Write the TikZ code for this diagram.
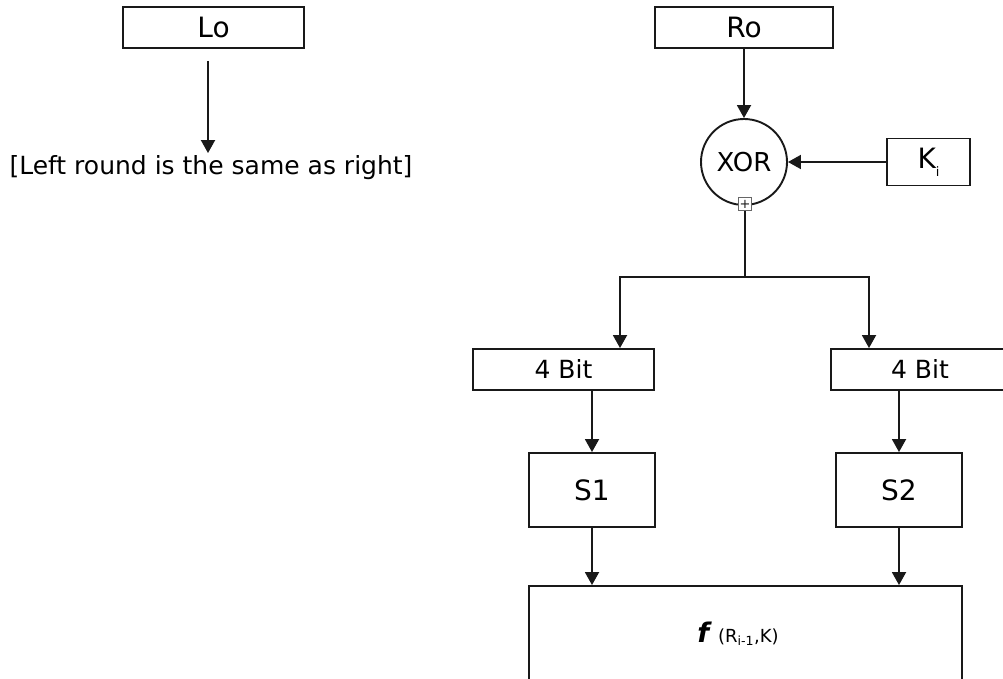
\documentclass[tikz,border=0pt]{standalone}
\usepackage{fontspec}
\setmainfont{DejaVu Sans}
\usetikzlibrary{arrows.meta}
\begin{document}
\begin{tikzpicture}[x=1pt,y=1pt,line width=1.9pt,color=black!90,
  >={Triangle[length=13pt,width=14pt]},
  box/.style={draw,rectangle,inner sep=0pt,text=black,font=\fontsize{28}{32}\selectfont},
  bitbox/.style={box,minimum height=41pt,font=\fontsize{25}{28}\selectfont},
  sbox/.style={box,minimum width=126pt,minimum height=74pt,font=\fontsize{28}{30}\selectfont},
  xorc/.style={draw,circle,inner sep=0pt,text=black,minimum size=86pt,font=\fontsize{26}{30}\selectfont},
  plusbox/.style={draw=black!60,fill=white,line width=0.9pt,inner sep=0pt,minimum size=13pt,font=\fontsize{13}{13}\selectfont}]
\useasboundingbox (0,0) rectangle (1003,-679);
%\draw[very thin,color=gray,step=50] (0,0) grid (1003,-679);
% left half
\node[box,minimum width=181pt,minimum height=41pt] (L0) at (213.5,-27.5) {Lo};
\coordinate (Lout) at (208,-61);
\node[anchor=base,inner sep=2pt,text=black,font=\fontsize{25}{28}\selectfont] (note) at (211,-175) {[Left round is the same as right]};
\draw[->] (Lout) -- (Lout |- note.north);
% right half
\node[box,minimum width=178pt,minimum height=41pt] (R0) at (744,-27.5) {Ro};
\node[xorc] (xor) at (744,-162) {XOR};
\node[box,minimum width=83pt,minimum height=47pt] (Ki) at (928.5,-162) {K{\fontsize{13}{13}\selectfont\raisebox{-8pt}{i}}};
\node[plusbox] (plus) at (745,-204) {+};
\draw[->] (R0) -- (xor);
\draw[->] (Ki.west) -- (Ki.west -| xor.east);
\coordinate (split) at (745,-277);
\coordinate (splitL) at (620,-277);
\coordinate (splitR) at (869,-277);
\node[bitbox,minimum width=181pt] (bitL) at (563.5,-369.5) {4 Bit};
\node[bitbox,minimum width=178pt] (bitR) at (920,-369.5) {4 Bit};
\draw (plus.south) -- (split);
\draw[->] (split) -- (splitL) -- (splitL |- bitL.north);
\draw[->] (split) -- (splitR) -- (splitR |- bitR.north);
% s-boxes
\node[sbox] (S1) at (592,-490) {S1};
\node[sbox] (S2) at (899,-490) {S2};
\draw[->] (bitL.south -| S1) -- (S1.north);
\draw[->] (bitR.south -| S2) -- (S2.north);
% round function
\node[box,minimum width=433pt,minimum height=130pt] (fbox) at (745.5,-651) {};
\node[anchor=base,text=black,font=\fontsize{18}{20}\selectfont] (flabel) at (738,-642)
  {{\fontsize{27}{27}\selectfont\bfseries\itshape f}\enspace(R\textsubscript{i-1},K)};
\draw[->] (S1) -- (S1 |- fbox.north);
\draw[->] (S2) -- (S2 |- fbox.north);
\end{tikzpicture}
\end{document}
